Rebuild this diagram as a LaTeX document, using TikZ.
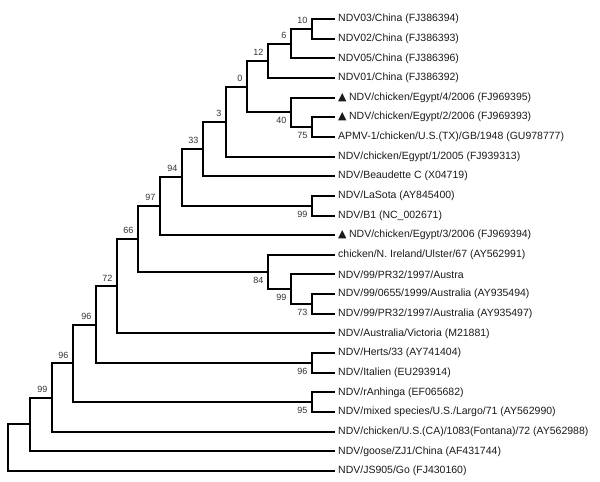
\documentclass[tikz,border=0pt]{standalone}
\usepackage{fontspec}
\setmainfont{Liberation Sans}
\newfontfamily\symfont{DejaVu Sans}
\newcommand{\egyptmark}{{\symfont\fontsize{11}{12}\selectfont ▲}\hspace{2.5pt}}

\begin{document}
\begin{tikzpicture}[
    x=1pt, y=-1pt,
    every node/.style={font=\fontsize{10.5}{12}\selectfont},
]

% ---------------------------------------------------------------- colours
\definecolor{branchcolor}{HTML}{000000}   % the tree itself
\definecolor{leafcolor}{HTML}{1A1A1A}     % strain names
\definecolor{bootcolor}{HTML}{333333}     % bootstrap values

% ================================================================
% Geometry, in pixels of the 600 x 482 page, y counted downwards.
%
%   24 leaves, first row y = 19, pitch 19.65  ->  last row y = 471
%   every leaf branch ends at x = 335, the names start 3 further right
%
%   an internal node sits half way between its two children, so its
%   height is given in rows:  row r  ->  y = 19 + r * 19.65
%
%   node columns  x = 8, 30, 52, 73, 96, 117, 138, 160, 182, 203,
%                     226, 247, 268, 291, 312
%
%   bootstrap value: right-aligned just left of the node, above the
%   incoming branch for an upper child, below it for a lower child
% ================================================================

\def\firstrow{19}
\def\pitch{19.65}
\def\tipx{335}

\tikzset{
    branch/.style={draw=branchcolor, line width=2pt},
    leafname/.style={
        anchor=west, inner xsep=3pt, inner ysep=1pt,
        text=leafcolor,
    },
    bootval/.style={
        font=\fontsize{9}{10}\selectfont, text=bootcolor,
        inner sep=0pt, xshift=-4.5pt,
    },
    bootup/.style={bootval, anchor=south east, yshift=5pt},
    bootdown/.style={bootval, anchor=north east, yshift=-5pt},
}

\useasboundingbox (0,0) rectangle (600,482);

% ================================================================ leaves
\foreach \i/\name in {
     0/{NDV03/China (FJ386394)},
     1/{NDV02/China (FJ386393)},
     2/{NDV05/China (FJ386396)},
     3/{NDV01/China (FJ386392)},
     4/{\egyptmark NDV/chicken/Egypt/4/2006 (FJ969395)},
     5/{\egyptmark NDV/chicken/Egypt/2/2006 (FJ969393)},
     6/{APMV-1/chicken/U.S.(TX)/GB/1948 (GU978777)},
     7/{NDV/chicken/Egypt/1/2005 (FJ939313)},
     8/{NDV/Beaudette C (X04719)},
     9/{NDV/LaSota (AY845400)},
    10/{NDV/B1 (NC\_002671)},
    11/{\egyptmark NDV/chicken/Egypt/3/2006 (FJ969394)},
    12/{chicken/N. Ireland/Ulster/67 (AY562991)},
    13/{NDV/99/PR32/1997/Austra},
    14/{NDV/99/0655/1999/Australia (AY935494)},
    15/{NDV/99/PR32/1997/Australia (AY935497)},
    16/{NDV/Australia/Victoria (M21881)},
    17/{NDV/Herts/33 (AY741404)},
    18/{NDV/Italien (EU293914)},
    19/{NDV/rAnhinga (EF065682)},
    20/{NDV/mixed species/U.S./Largo/71 (AY562990)},
    21/{NDV/chicken/U.S.(CA)/1083(Fontana)/72 (AY562988)},
    22/{NDV/goose/ZJ1/China (AF431744)},
    23/{NDV/JS905/Go (FJ430160)}} {
    \pgfmathsetmacro{\y}{\firstrow+\i*\pitch}
    \node[leafname] (leaf\i) at (\tipx,\y) {\name};
}

% ================================================================ internal nodes
\coordinate (n10)  at (312, {\firstrow+0.5*\pitch});
\coordinate (n6)   at (291, {\firstrow+1.25*\pitch});
\coordinate (n12)  at (268, {\firstrow+2.125*\pitch});
\coordinate (n75)  at (312, {\firstrow+5.5*\pitch});
\coordinate (n40)  at (291, {\firstrow+4.75*\pitch});
\coordinate (n0)   at (247, {\firstrow+3.4375*\pitch});
\coordinate (n3)   at (226, {\firstrow+5.21875*\pitch});
\coordinate (n33)  at (203, {\firstrow+6.609375*\pitch});
\coordinate (nls)  at (312, {\firstrow+9.5*\pitch});
\coordinate (n94)  at (182, {\firstrow+8.0547*\pitch});
\coordinate (n97)  at (160, {\firstrow+9.5273*\pitch});
\coordinate (n73)  at (312, {\firstrow+14.5*\pitch});
\coordinate (nau)  at (291, {\firstrow+13.75*\pitch});
\coordinate (n84)  at (268, {\firstrow+12.875*\pitch});
\coordinate (n66)  at (138, {\firstrow+11.2012*\pitch});
\coordinate (n72)  at (117, {\firstrow+13.6006*\pitch});
\coordinate (nhi)  at (312, {\firstrow+17.5*\pitch});
\coordinate (n96a) at (96,  {\firstrow+15.5503*\pitch});
\coordinate (nra)  at (312, {\firstrow+19.5*\pitch});
\coordinate (n96b) at (73,  {\firstrow+17.5251*\pitch});
\coordinate (n99)  at (52,  {\firstrow+19.2626*\pitch});
\coordinate (ngo)  at (30,  {\firstrow+20.6313*\pitch});
\coordinate (root) at (8,   {\firstrow+21.8156*\pitch});

% ================================================================ branches
\foreach \p/\c in {
    n10/leaf0.west, n10/leaf1.west,
    n6/n10, n6/leaf2.west,
    n12/n6, n12/leaf3.west,
    n75/leaf5.west, n75/leaf6.west,
    n40/leaf4.west, n40/n75,
    n0/n12, n0/n40,
    n3/n0, n3/leaf7.west,
    n33/n3, n33/leaf8.west,
    nls/leaf9.west, nls/leaf10.west,
    n94/n33, n94/nls,
    n97/n94, n97/leaf11.west,
    n73/leaf14.west, n73/leaf15.west,
    nau/leaf13.west, nau/n73,
    n84/leaf12.west, n84/nau,
    n66/n97, n66/n84,
    n72/n66, n72/leaf16.west,
    nhi/leaf17.west, nhi/leaf18.west,
    n96a/n72, n96a/nhi,
    nra/leaf19.west, nra/leaf20.west,
    n96b/n96a, n96b/nra,
    n99/n96b, n99/leaf21.west,
    ngo/n99, ngo/leaf22.west,
    root/ngo, root/leaf23.west} {
    \draw[branch] (\p) |- (\c);
}

% ================================================================ bootstrap values
\foreach \n/\v in {n10/10, n6/6, n12/12, n0/0, n3/3, n33/33, n94/94,
                   n97/97, n66/66, n72/72, n96a/96, n96b/96, n99/99} {
    \node[bootup] (b\n) at (\n) {\v};
}
\foreach \n/\v in {n40/40, n75/75, nls/99, n84/84, nau/99, n73/73,
                   nhi/96, nra/95} {
    \node[bootdown] (b\n) at (\n) {\v};
}

\end{tikzpicture}
\end{document}
